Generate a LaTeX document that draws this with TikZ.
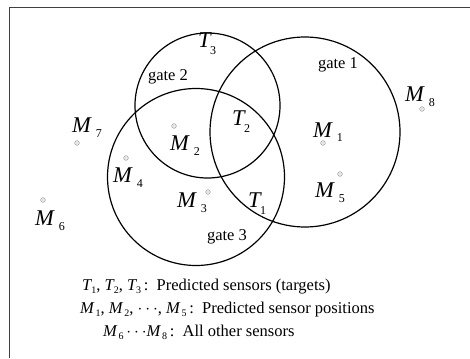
\documentclass[tikz,border=0pt]{standalone}
\usepackage{fontspec}
\setmainfont{Liberation Serif}
\newcommand{\symM}[2]{{\fontsize{22.5}{22.5}\selectfont\textit{#1}}\kern4pt\raisebox{-5pt}{\fontsize{12}{12}\selectfont #2}}
\newcommand{\symT}[2]{{\fontsize{22.5}{22.5}\selectfont\textit{#1}}\kern-2pt\raisebox{-7pt}{\fontsize{12}{12}\selectfont #2}}
\newcommand{\lgM}[2]{\textit{#1}\kern1pt\raisebox{-3pt}{\fontsize{10}{10}\selectfont #2}}
\newcommand{\lgT}[2]{\textit{#1}\kern-1pt\raisebox{-3.5pt}{\fontsize{10}{10}\selectfont #2}}
\begin{document}
\begin{tikzpicture}[x=1pt,y=-1pt,
  gatecircle/.style={circle,draw=black,line width=1.2pt,inner sep=0pt},
  sensordot/.style={circle,draw=black!45,line width=0.5pt,inner sep=0pt,minimum size=4.6pt},
  lbl/.style={inner sep=0pt,anchor=base west},
  gatelbl/.style={inner sep=0pt,font=\fontsize{16.5}{16.5}\selectfont},
  legend/.style={inner sep=0pt,anchor=base west,font=\fontsize{16.5}{16.5}\selectfont}]
\useasboundingbox (0,0) rectangle (470,358);
\draw[line width=1.5pt,black!75] (9.5,358) -- (9.5,7.5) -- (470,7.5);
% gates
\node[gatecircle,minimum size=145pt] (g2) at (207.5,105.5) {};
\node[gatecircle,minimum size=190pt] (g1) at (305,132) {};
\node[gatecircle,minimum size=177pt] (g3) at (196,177) {};
\node[gatelbl] (lg1) at (338,65) {gate 1};
\node[gatelbl] (lg2) at (168,77) {gate 2};
\node[gatelbl] (lg3) at (227,237) {gate 3};
% targets
\node[lbl] (t1) at (248,207) {\symT{T}{1}};
\node[lbl] (t2) at (232,125) {\symT{T}{2}};
\node[lbl] (t3) at (198,48) {\symT{T}{3}};
% sensors
\node[lbl] (m1) at (313,137) {\symM{M}{1}};
\node[lbl] (m2) at (170,150) {\symM{M}{2}};
\node[lbl] (m3) at (177,207) {\symM{M}{3}};
\node[lbl] (m4) at (113,182) {\symM{M}{4}};
\node[lbl] (m5) at (315,197) {\symM{M}{5}};
\node[lbl] (m6) at (35,225) {\symM{M}{6}};
\node[lbl] (m7) at (72,132) {\symM{M}{7}};
\node[lbl] (m8) at (405,102) {\symM{M}{8}};
\foreach \n/\p in {1/{(323,143)},2/{(174,126)},3/{(208,192)},4/{(126,158)},5/{(340,174)},6/{(43,200)},7/{(77,143)},8/{(422,109)}}{
  \node[sensordot] (d\n) at \p {};
  \fill[black!45] (d\n.center) circle (0.6pt);
}
% legend
\node[legend] (leg1) at (82,290) {\lgT{T}{1}, \lgT{T}{2}, \lgT{T}{3}\,:\ \ Predicted sensors (targets)};
\node[legend] (leg2) at (80,313) {\lgM{M}{1}, \lgM{M}{2}, $\cdots$, \lgM{M}{5}\,:\ \ Predicted sensor positions};
\node[legend] (leg3) at (103,336) {\lgM{M}{6}\,$\cdots$\lgM{M}{8}\,:\ \ All other sensors};
\end{tikzpicture}
\end{document}
